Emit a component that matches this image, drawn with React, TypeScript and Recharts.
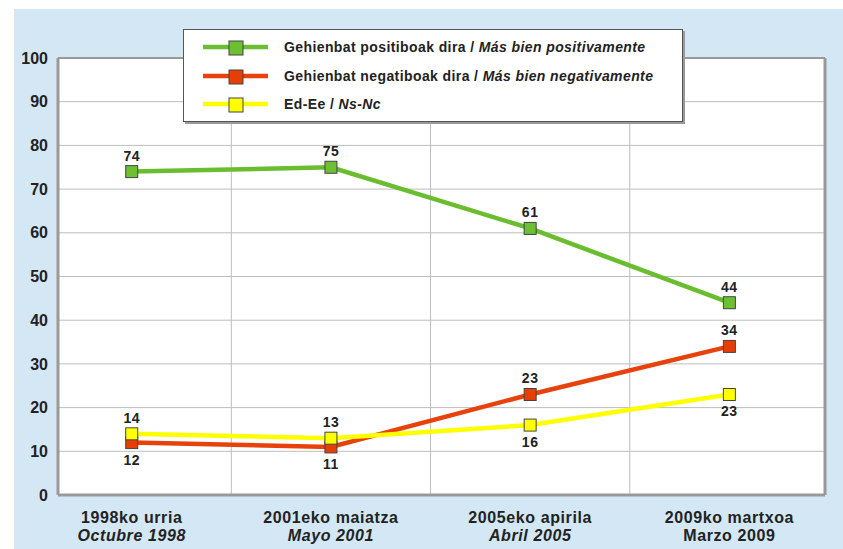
import { LineChart, Line, XAxis, YAxis, CartesianGrid, ReferenceLine, LabelList } from "recharts";

const categoriesEu = ["1998ko urria", "2001eko maiatza", "2005eko apirila", "2009ko martxoa"];
const categoriesEs = ["Octubre 1998", "Mayo 2001", "Abril 2005", "Marzo 2009"];
const esItalic = [true, true, true, false];

const positive = [74, 75, 61, 44];
const negative = [12, 11, 23, 34];
const nsnc = [14, 13, 16, 23];

const yTicks = [0, 10, 20, 30, 40, 50, 60, 70, 80, 90, 100];
const columnEdges = [0.5, 1.5, 2.5];

const series = [
  { key: "pos", eu: "Gehienbat positiboak dira", es: "Más bien positivamente", line: "#69bd2f", fill: "#6cc032", labels: ["top", "top", "top", "top"] },
  { key: "neg", eu: "Gehienbat negatiboak dira", es: "Más bien negativamente", line: "#e8420c", fill: "#e63e05", labels: ["bottom", "bottom", "top", "top"] },
  { key: "ns", eu: "Ed-Ee", es: "Ns-Nc", line: "#ffff00", fill: "#ffff00", labels: ["top", "top", "bottom", "bottom"] },
];

const data = categoriesEu.map((c, i) => ({
  x: i,
  pos: positive[i],
  neg: negative[i],
  ns: nsnc[i],
}));

const FONT = "'Liberation Sans', Arial, sans-serif";
const TEXT = "#222";

function XTick(props: any) {
  const { x, y, payload } = props;
  const i = payload.value;
  return (
    <g>
      <text x={x} y={y + 20} textAnchor="middle" fontSize={16} letterSpacing={0.6} fontWeight="bold" fill={TEXT} fontFamily={FONT}>
        {categoriesEu[i]}
      </text>
      <text x={x} y={y + 38} textAnchor="middle" fontSize={16} letterSpacing={0.6} fontWeight="bold" fontStyle={esItalic[i] ? "italic" : "normal"} fill={TEXT} fontFamily={FONT}>
        {categoriesEs[i]}
      </text>
    </g>
  );
}

function makeDot(fill: string) {
  return (p: any) => (
    <rect key={p.index} x={p.cx - 6} y={p.cy - 6} width={12} height={12} fill={fill} stroke="#444" strokeWidth={1} />
  );
}

function makeLabel(places: string[]) {
  return (p: any) => {
    const above = places[p.index] === "top";
    return (
      <text x={p.x} y={above ? p.y - 11 : p.y + 22} textAnchor="middle" fontSize={14} fontWeight="bold" letterSpacing={0.5} fill={TEXT} fontFamily={FONT}>
        {p.value}
      </text>
    );
  };
}

export default function App() {
  return (
    <div style={{ position: "absolute", left: 14, top: 9, width: 829, height: 540, background: "#d3e7f5" }}>
      <style>{"body{margin:0;overflow:hidden}"}</style>
      <LineChart width={829} height={540} data={data} margin={{ top: 49, right: 18, left: 4, bottom: 4 }}>
        <CartesianGrid vertical={false} stroke="#bdbdbd" fill="#fff" />
        {columnEdges.map((e) => (
          <ReferenceLine key={e} x={e} stroke="#bdbdbd" />
        ))}
        <XAxis
          dataKey="x"
          type="number"
          domain={[-0.37, 3.48]}
          allowDataOverflow
          ticks={[0, 1, 2, 3]}
          height={50}
          tick={<XTick />}
          tickLine={false}
          axisLine={{ stroke: "#999", strokeWidth: 3 }}
        />
        <YAxis
          domain={[0, 100]}
          ticks={yTicks}
          width={40}
          tickSize={0}
          tickMargin={10}
          tickLine={false}
          axisLine={{ stroke: "#999", strokeWidth: 3 }}
          tick={{ fill: TEXT, fontSize: 16, fontWeight: "bold", fontFamily: FONT }}
        />
        <ReferenceLine y={100} stroke="#999" strokeWidth={2} />
        <ReferenceLine x={3.48} stroke="#999" strokeWidth={3} />
        {series.map((s) => (
          <Line
            key={s.key}
            dataKey={s.key}
            stroke={s.line}
            strokeWidth={4.5}
            dot={makeDot(s.fill)}
            activeDot={false}
            isAnimationActive={false}
          >
            <LabelList dataKey={s.key} content={makeLabel(s.labels)} />
          </Line>
        ))}
      </LineChart>
      <div
        style={{
          position: "absolute",
          left: 169,
          top: 20,
          width: 498,
          height: 91,
          background: "#fff",
          border: "1px solid #555",
          boxShadow: "2px 2px 0 #999",
          fontFamily: FONT,
        }}
      >
        {series.map((s, i) => (
          <div key={s.key} style={{ position: "absolute", left: 0, top: 17 + i * 28.5 - 10, height: 20, display: "flex", alignItems: "center" }}>
            <svg width={100} height={20} style={{ display: "block" }}>
              <line x1={19} x2={84} y1={10} y2={10} stroke={s.line} strokeWidth={4.5} />
              <rect x={45} y={4} width={14} height={14} fill={s.fill} stroke="#444" strokeWidth={1} />
            </svg>
            <span style={{ fontSize: 14, letterSpacing: 0.4, fontWeight: "bold", color: TEXT, whiteSpace: "nowrap" }}>
              {s.eu} / <i>{s.es}</i>
            </span>
          </div>
        ))}
      </div>
    </div>
  );
}
